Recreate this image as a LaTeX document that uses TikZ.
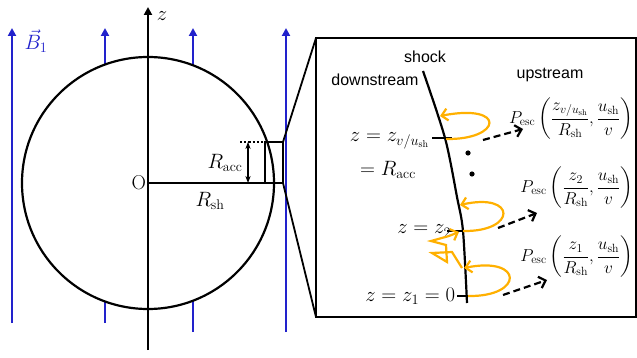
\documentclass[tikz,border=0pt]{standalone}
\usepackage{amsmath}
\usepackage{fontspec}
\newfontfamily\labelfont{Liberation Sans}
\usetikzlibrary{arrows.meta}
\definecolor{fieldblue}{RGB}{34,34,204}
\definecolor{looporange}{RGB}{255,176,0}
\tikzset{
  fieldline/.style={fieldblue, line width=2.6pt, -{Triangle[length=8pt,width=8pt]}},
  scatter/.style={looporange, line width=2.2pt, -{Straight Barb[length=6pt,width=12pt]}},
  escape/.style={line width=2.2pt, dash pattern=on 7pt off 4pt, -{Straight Barb[length=6pt,width=12pt]}},
  word/.style={font=\labelfont\fontsize{16}{18}\selectfont},
  esc/.style={anchor=east, inner sep=0pt, font=\fontsize{17}{20}\selectfont}
}
\begin{document}
\begin{tikzpicture}[x=1pt, y=-1pt, line width=1.8pt, font=\fontsize{20}{24}\selectfont]
  \useasboundingbox (0,0) rectangle (637,358);
  % field lines
  \foreach \fx/\fy in {12/323, 105/323, 193/332, 286/332}
    \draw[fieldline] (\fx,\fy) -- (\fx,28);
  \node[fieldblue, inner sep=0pt] (bfield) at (36,41) {$\vec{B}_1$};
  % shock sphere and z axis
  \coordinate (origin) at (148,183);
  \draw[fill=white, line width=2.2pt] (origin) circle [radius=126];
  \draw[line width=2.2pt, -{Triangle[length=8pt,width=8pt]}] (148,350) -- (148,7);
  \node (zlabel) at (162,16) {$z$};
  \node[left, inner sep=1pt] (olabel) at (origin) {O};
  \coordinate (rim) at (283,183);
  \draw (origin) -- (rim);
  \node (rsh) at (210,201) {$R_{\mathrm{sh}}$};
  % zoomed patch
  \draw (265,142) rectangle (rim);
  \coordinate (patchtop) at (283,142);
  \draw[dotted, line width=2.2pt] (240,142) -- (264,142);
  \coordinate (accup) at (248,142);
  \coordinate (acclow) at (248,183);
  \draw[{Stealth[length=7pt]}-{Stealth[length=7pt]}] (accup) -- (acclow);
  \node (racc) at (225,163) {$R_{\mathrm{acc}}$};
  % enlarged view
  \coordinate (boxtop) at (316,38);
  \coordinate (boxlow) at (316,317);
  \draw (patchtop) -- (boxtop);
  \draw (rim) -- (boxlow);
  \draw (boxtop) rectangle (636,317);
  \node[word] (shock) at (425,57) {shock};
  \node[word] (down) at (375,80) {downstream};
  \node[word] (up) at (550,75) {upstream};
  \draw[line width=2.2pt] plot[smooth] coordinates {(423,71) (445,138) (457,197) (463,231) (467,303)};
  % ticks on the shock
  \draw (432,138) -- (452,138);
  \draw (447,231) -- (466,231);
  \draw (457,296) -- (475,296);
  \node[anchor=east, inner sep=1pt] (zv) at (431,141) {$z = z_{v/u_{\mathrm{sh}}}$};
  \node (zacc) at (388,170) {$= R_{\mathrm{acc}}$};
  \node[anchor=east, inner sep=0pt] (ztwo) at (452,231) {$z = z_2$};
  \node[anchor=east, inner sep=1pt] (zone) at (457,296) {$z = z_1 = 0$};
  \fill (468,153) circle [radius=2.6];
  \fill (472,174) circle [radius=2.6];
  % returns to the shock
  \draw[scatter] (446,139) .. controls (502,140) and (507,103) .. (440,116);
  \draw[scatter] (463,231) .. controls (517,232) and (517,192) .. (460,205);
  \draw[scatter] (468,296) .. controls (524,297) and (524,256) .. (464,268);
  \draw[scatter] (462,268) -- (452,252) -- (432,253) -- (447,262) -- (446,245) -- (431,241) -- (449,236) -- (459,232);
  % escapes
  \draw[escape] (483,140) -- (523,129);
  \draw[escape] (498,228) -- (537,213);
  \draw[escape] (503,295) -- (547,280);
  \node[esc] (pone) at (634,119) {$P_{\mathrm{esc}}\left(\dfrac{z_{v/u_{\mathrm{sh}}}}{R_{\mathrm{sh}}},\dfrac{u_{\mathrm{sh}}}{v}\right)$};
  \node[esc] (ptwo) at (634,188) {$P_{\mathrm{esc}}\left(\dfrac{z_2}{R_{\mathrm{sh}}},\dfrac{u_{\mathrm{sh}}}{v}\right)$};
  \node[esc] (pthree) at (634,257) {$P_{\mathrm{esc}}\left(\dfrac{z_1}{R_{\mathrm{sh}}},\dfrac{u_{\mathrm{sh}}}{v}\right)$};
\end{tikzpicture}
\end{document}
